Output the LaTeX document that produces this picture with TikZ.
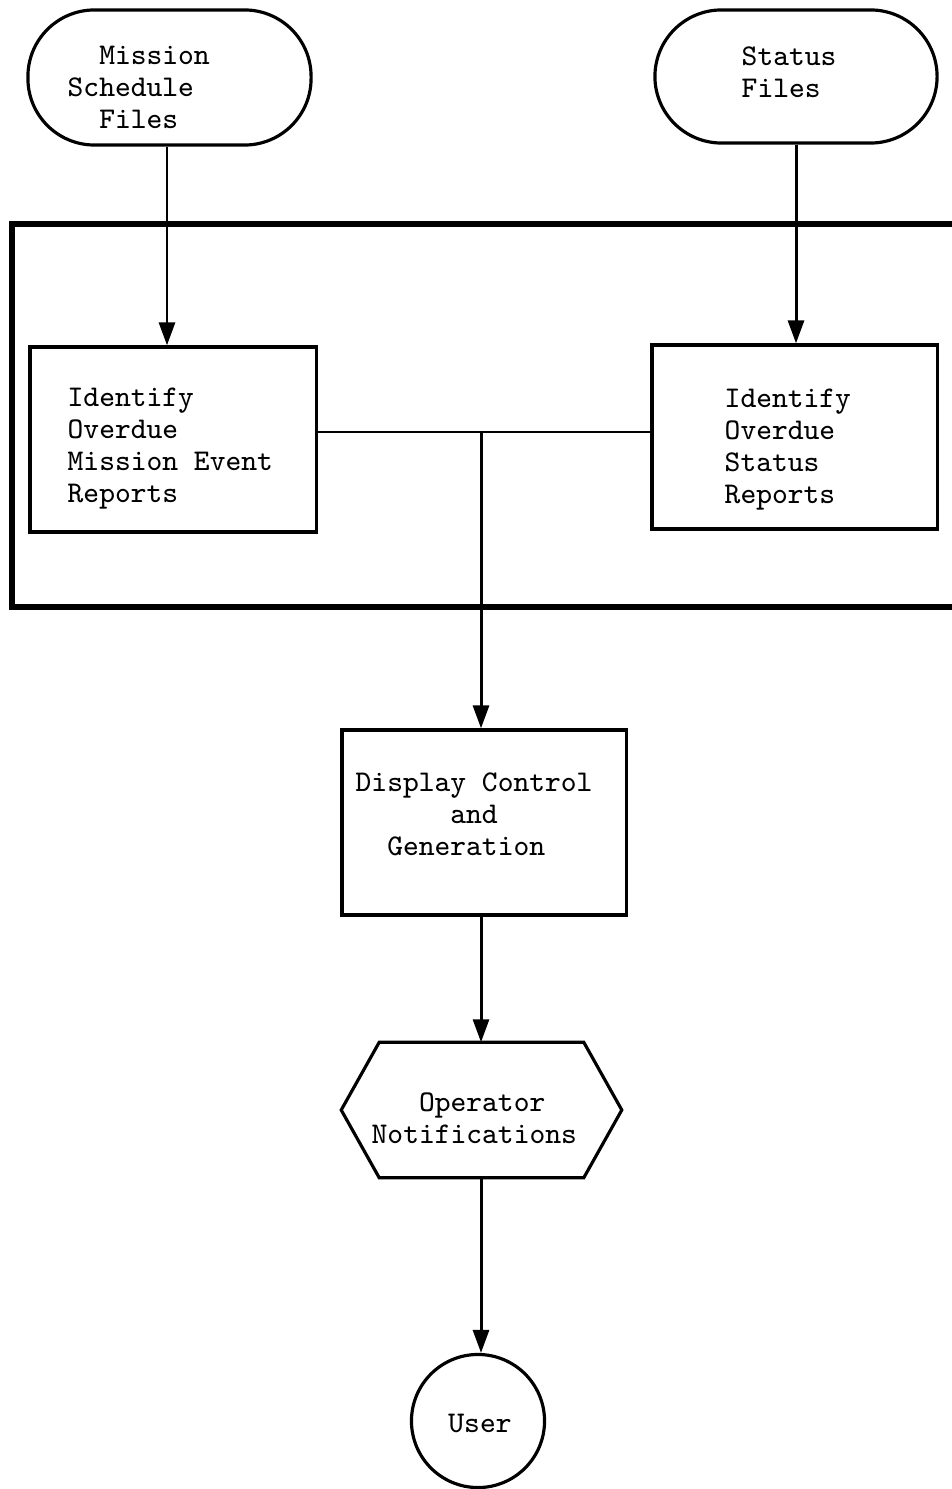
\documentclass[tikz,border=0pt]{standalone}
\usepackage{fontspec}
\usetikzlibrary{arrows.meta,calc}
\begin{document}
\begin{tikzpicture}[x=0.01cm,y=-0.01cm,
  txt/.style={font=\ttfamily\fontsize{8.55}{9.1}\selectfont, align=left, inner sep=0pt, anchor=west},
  shapebox/.style={draw, line width=0.9pt, inner sep=0pt},
  stadium/.style={shapebox, rounded corners=0.665cm},
  conn/.style={line width=0.85pt},
  arr/.style={conn, -{Triangle[length=2.3mm,width=1.6mm]}},
  frame/.style={line width=1.7pt}]
\useasboundingbox (0,0) rectangle (951,1489);

% shapes
\node[stadium, minimum width=2.83cm, minimum height=1.35cm] (ms) at (169.5,77.5) {};
\node[stadium, minimum width=2.82cm, minimum height=1.33cm] (sf) at (796,76.5) {};
\node[shapebox, minimum width=2.86cm, minimum height=1.85cm] (idl) at (173,439.5) {};
\node[shapebox, minimum width=2.85cm, minimum height=1.84cm] (idr) at (794.5,437) {};
\node[shapebox, minimum width=2.84cm, minimum height=1.85cm] (disp) at (484,822.5) {};
\node[inner sep=0pt, minimum width=2.79cm, minimum height=1.34cm] (hex) at (481.5,1110) {};
\draw[line width=0.9pt] (hex.west) -- ($(hex.north west)+(38,0)$) -- ($(hex.north east)+(-38,0)$)
  -- (hex.east) -- ($(hex.south east)+(-38,0)$) -- ($(hex.south west)+(38,0)$) -- cycle;
\node[shapebox, circle, minimum size=1.33cm] (user) at (478,1421) {};

% group frame (right side runs off the page)
\draw[frame] (960,224) -- (12,224) -- (12,607) -- (960,607);

% texts
\node[txt] (t1) at (67,87) {\hphantom{MM}Mission\\Schedule\\\hphantom{MM}Files};
\node[txt] (t2) at (741,72) {Status\\Files};
\node[txt] (t3) at (67,449) {Identify\\Overdue\\Mission Event\\Reports};
\node[txt] (t4) at (724,450) {Identify\\Overdue\\Status\\Reports};
\node[txt] (t5) at (355,814) {Display Control\\\hphantom{MMMMMM}and\\\hphantom{MM}Generation};
\node[txt] (t6) at (371,1118) {\hphantom{MMM}Operator\\Notifications};
\node[txt, anchor=center] (t7) at (480,1423) {User};

% connectors
\coordinate (j) at (481,432);
\draw[arr] ([xshift=-0.025cm]ms.south) -- ([xshift=-0.025cm]ms.south |- idl.north);
\draw[arr] (sf.south) -- (sf.south |- idr.north);
\draw[conn] (idl.east |- j) -- (idr.west |- j);
\draw[arr] (j) -- (j |- disp.north);
\draw[arr] (disp.south -| j) -- (j |- hex.north);
\draw[arr] (hex.south -| j) -- (j |- user.north);
\end{tikzpicture}
\end{document}
